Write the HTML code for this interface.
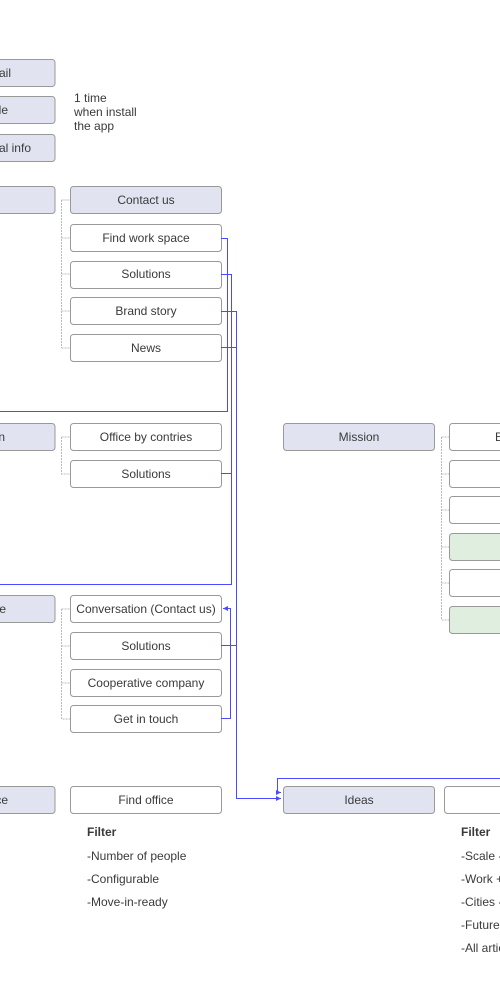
<!DOCTYPE html>
<html><head><meta charset="utf-8"><style>body{margin:0;background:#fff;width:500px;height:1000px;overflow:hidden}svg{display:block}text{font-family:"Liberation Sans",Arial,sans-serif;font-size:12px;fill:#3a3a3a}</style></head><body>
<svg width="500" height="1000" viewBox="0 0 500 1000">
<defs><marker id="ar" markerWidth="6" markerHeight="6" refX="5" refY="3" orient="auto"><path d="M0,0.5 L5,3 L0,5.5z" fill="#4a4aff"/></marker></defs>
<g fill="#e1e4f0" stroke="#999" stroke-width="1">
<rect x="-20" y="59.5" width="75" height="27" rx="3"/>
<rect x="-20" y="96.5" width="75" height="27" rx="3"/>
<rect x="-20" y="134.5" width="75" height="27" rx="3"/>
<rect x="-20" y="186.5" width="75" height="27" rx="3"/>
<rect x="-20" y="423.5" width="75" height="27" rx="3"/>
<rect x="-20" y="595.5" width="75" height="27" rx="3"/>
<rect x="-20" y="786.5" width="75" height="27" rx="3"/>
<rect x="70.5" y="186.5" width="151" height="27" rx="3"/>
<rect x="283.5" y="423.5" width="151" height="27" rx="3"/>
<rect x="283.5" y="786.5" width="151" height="27" rx="3"/>
</g>
<g fill="#fff" stroke="#999" stroke-width="1">
<rect x="70.5" y="224.5" width="151" height="27" rx="3"/>
<rect x="70.5" y="261.5" width="151" height="27" rx="3"/>
<rect x="70.5" y="297.5" width="151" height="27" rx="3"/>
<rect x="70.5" y="334.5" width="151" height="27" rx="3"/>
<rect x="70.5" y="423.5" width="151" height="27" rx="3"/>
<rect x="70.5" y="460.5" width="151" height="27" rx="3"/>
<rect x="70.5" y="595.5" width="151" height="27" rx="3"/>
<rect x="70.5" y="632.5" width="151" height="27" rx="3"/>
<rect x="70.5" y="669.5" width="151" height="27" rx="3"/>
<rect x="70.5" y="705.5" width="151" height="27" rx="3"/>
<rect x="70.5" y="786.5" width="151" height="27" rx="3"/>
<rect x="449.5" y="423.5" width="80" height="27" rx="3"/>
<rect x="449.5" y="460.5" width="80" height="27" rx="3"/>
<rect x="449.5" y="496.5" width="80" height="27" rx="3"/>
<rect x="449.5" y="533.5" width="80" height="27" rx="3" fill="#e0eedf"/>
<rect x="449.5" y="569.5" width="80" height="27" rx="3"/>
<rect x="449.5" y="606.5" width="80" height="27" rx="3" fill="#e0eedf"/>
<rect x="444.5" y="786.5" width="80" height="27" rx="3"/>
</g>
<g fill="none" stroke="#bbb" stroke-width="1" stroke-dasharray="2,1">
<path d="M61.5,200 V348 M61.5,200 H70 M61.5,238 H70 M61.5,274 H70 M61.5,311 H70 M61.5,348 H70"/>
<path d="M61.5,437 V474 H70 M61.5,437 H70"/>
<path d="M61.5,609 V719 H70 M61.5,609 H70 M61.5,646 H70 M61.5,683 H70"/>
<path d="M441.5,437 V620 H449 M441.5,437 H449 M441.5,474 H449 M441.5,510 H449 M441.5,547 H449 M441.5,583 H449"/>
</g>
<g fill="none" stroke="#4a4aff" stroke-width="1">
<path d="M221,238.5 H227.5 V411.5 H0"/>
<path d="M221,274.5 H231.5 V584.5 H0 M221,473.5 H231.5"/>
<path d="M221,311.5 H236.5 V798.5 H281" marker-end="url(#ar)"/>
<path d="M221,347.5 H236.5 M221,645.5 H236.5"/>
<path d="M221,718.5 H230.5 V608.5 H223" marker-end="url(#ar)"/>
<path d="M500,778.5 H277.5 V792.5 H281" marker-end="url(#ar)"/>
</g>
<g text-anchor="end">
<text x="11" y="77">ail</text>
<text x="8" y="114">le</text>
<text x="31" y="152">al info</text>
<text x="5" y="441">n</text>
<text x="6" y="613">e</text>
<text x="8" y="804">ce</text>
</g>
<text x="74" y="102">1 time</text>
<text x="74" y="116">when install</text>
<text x="74" y="130">the app</text>
<g text-anchor="middle">
<text x="146" y="204">Contact us</text>
<text x="146" y="242">Find work space</text>
<text x="146" y="278">Solutions</text>
<text x="146" y="315">Brand story</text>
<text x="146" y="352">News</text>
<text x="146" y="441">Office by contries</text>
<text x="146" y="478">Solutions</text>
<text x="146" y="613">Conversation (Contact us)</text>
<text x="146" y="650">Solutions</text>
<text x="146" y="687">Cooperative company</text>
<text x="146" y="723">Get in touch</text>
<text x="146" y="804">Find office</text>
<text x="359" y="441">Mission</text>
<text x="359" y="804">Ideas</text>
</g>
<text x="495" y="441">E</text>
<text x="87" y="836" font-weight="bold">Filter</text>
<text x="87" y="860">-Number of people</text>
<text x="87" y="883">-Configurable</text>
<text x="87" y="906">-Move-in-ready</text>
<text x="461" y="836" font-weight="bold">Filter</text>
<text x="461" y="860">-Scale -</text>
<text x="461" y="883">-Work +</text>
<text x="461" y="906">-Cities -</text>
<text x="461" y="929">-Future</text>
<text x="461" y="952">-All artic</text>
</svg>
</body></html>
